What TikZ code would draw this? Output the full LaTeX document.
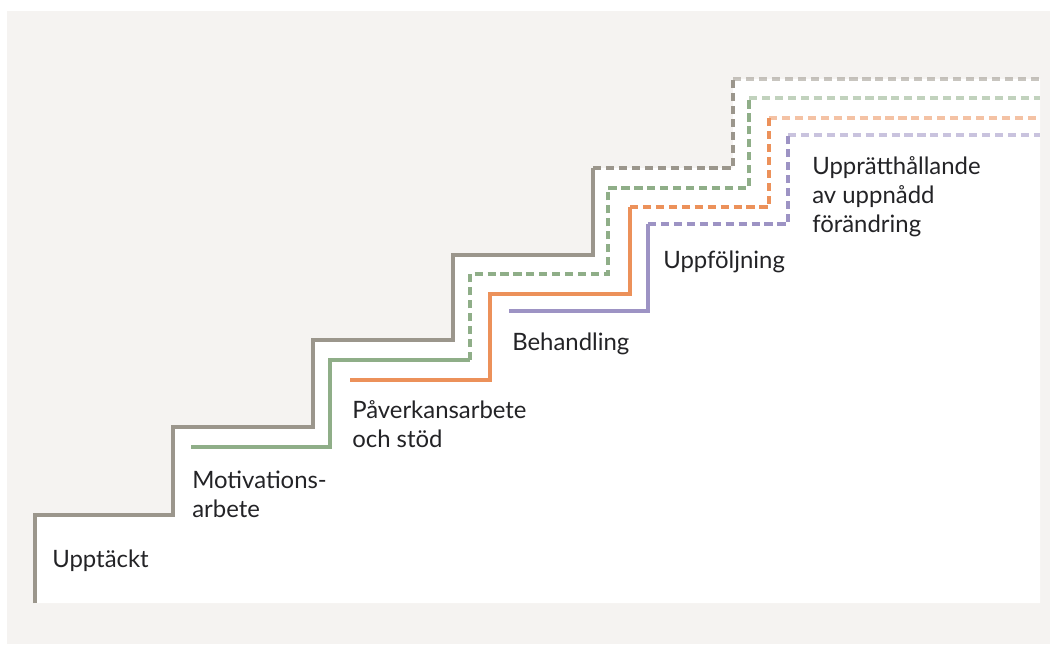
\documentclass[tikz,border=0pt]{standalone}
\usepackage{fontspec}
\setmainfont{Lato}
\usetikzlibrary{positioning}
\definecolor{grasteg}{RGB}{155,150,140}
\definecolor{gronsteg}{RGB}{143,174,136}
\definecolor{orangesteg}{RGB}{236,145,90}
\definecolor{lilasteg}{RGB}{157,147,196}
\definecolor{bakgrund}{RGB}{245,243,241}
\definecolor{textfarg}{RGB}{35,35,38}

\begin{document}
\begin{tikzpicture}[x=0.025cm, y=-0.025cm,
    trappa/.style={line width=3pt},
    streckad/.style={trappa, dash pattern=on 5.8pt off 3.4pt},
    blek/.style={streckad, opacity=0.55},
    etikett/.style={anchor=base west, align=left, inner sep=0pt, text=textfarg,
      font=\fontsize{17}{20.6}\selectfont}]
  % Bakgrund
  \useasboundingbox (0,0) rectangle (1050,644);
  \fill[white] (0,0) rectangle (1050,644);
  \fill[bakgrund] (7,11) rectangle (1050,644);
  \fill[white] (35,603) -- (35,515) -- (173,515) -- (173,427) -- (313,427)
    -- (313,340) -- (453,340) -- (453,255) -- (593,255) -- (593,168)
    -- (733,168) -- (733,79) -- (1040,79) -- (1040,603) -- cycle;

  % Trappor
  \draw[trappa, grasteg] (35,603) -- (35,515) -- (173,515) -- (173,427) -- (313,427)
    -- (313,340) -- (453,340) -- (453,255) -- (593,255) -- (593,168);
  \draw[streckad, grasteg] (593,168) -- (733,168) -- (733,79);
  \draw[blek, grasteg] (733,79) -- (1040,79);

  \draw[trappa, gronsteg] (191,447) -- (330,447) -- (330,360) -- (470,360);
  \draw[streckad, gronsteg] (470,360) -- (470,274) -- (608,274) -- (608,188)
    -- (749,188) -- (749,98);
  \draw[blek, gronsteg] (749,98) -- (1040,98);

  \draw[trappa, orangesteg] (350,380) -- (490,380) -- (490,294) -- (630,294) -- (630,207);
  \draw[streckad, orangesteg] (630,207) -- (769,207) -- (769,118);
  \draw[blek, orangesteg] (769,118) -- (1040,118);

  \draw[trappa, lilasteg] (509,311) -- (648,311) -- (648,224);
  \draw[streckad, lilasteg] (648,224) -- (788,224) -- (788,135);
  \draw[blek, lilasteg] (788,135) -- (1040,135);

  % Texter (base = sista raden)
  \node[etikett] (upptackt) at (52,567) {Upptäckt};
  \node[etikett] (motivation) at (192,517) {Motivations-\\arbete};
  \node[etikett] (paverkan) at (352,447) {Påverkansarbete\\och stöd};
  \node[etikett] (behandling) at (512,350) {Behandling};
  \node[etikett] (uppfoljning) at (663,268) {Uppföljning};
  \node[etikett] (uppratt) at (812,232) {Upprätthållande\\av uppnådd\\förändring};
\end{tikzpicture}
\end{document}
